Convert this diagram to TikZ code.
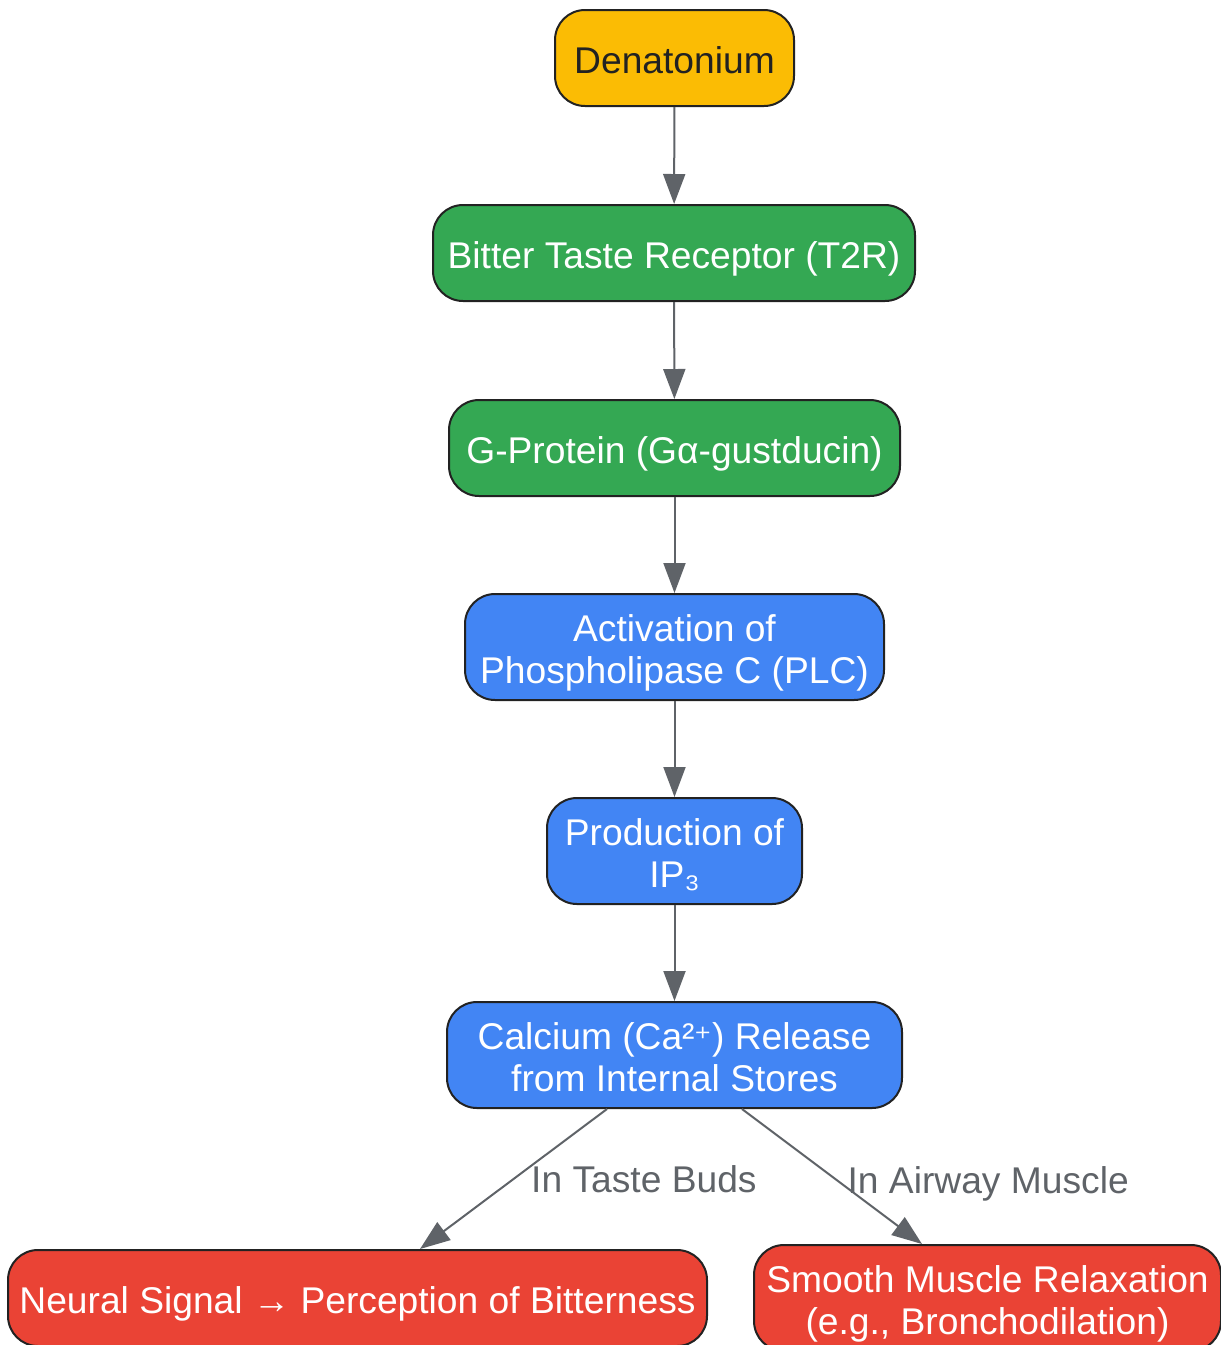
\documentclass[tikz,border=0pt]{standalone}
\usepackage{fontspec}
\setmainfont{Liberation Sans}
\newfontfamily\dejavu{DejaVu Sans}
\usetikzlibrary{arrows.meta,calc}
\definecolor{cyellow}{HTML}{FBBC04}
\definecolor{cgreen}{HTML}{34A853}
\definecolor{cblue}{HTML}{4285F4}
\definecolor{cred}{HTML}{EA4335}
\definecolor{cedge}{HTML}{5F6368}
\definecolor{cborder}{HTML}{222222}
\newcommand\boxtext[1]{\raisebox{0pt}[\dimexpr\height+7pt\relax][\dimexpr\depth-7pt\relax]{\begin{tabular}{@{}c@{}}#1\end{tabular}}}
\begin{document}
\begin{tikzpicture}[x=1pt,y=-1pt,
  box/.style={draw=cborder,line width=2pt,rounded corners=30pt,
    font=\fontsize{37.2}{42}\selectfont,text=white,inner sep=0pt},
  flow/.style={draw=cedge,line width=2pt,-{Triangle[length=30pt,width=22pt]}},
  elabel/.style={font=\fontsize{37.2}{42}\selectfont,text=cedge,inner sep=0pt}]
\useasboundingbox (0,0) rectangle (1221,1345);
\node[box,fill=cyellow,text=cborder,minimum width=239pt,minimum height=96pt] (den) at (674.5,58) {\boxtext{Denatonium}};
\node[box,fill=cgreen,minimum width=482pt,minimum height=96pt] (t2r) at (674,253) {\boxtext{Bitter Taste Receptor (T2R)}};
\node[box,fill=cgreen,minimum width=451pt,minimum height=96pt] (gp) at (674.5,448) {\boxtext{G-Protein (Gα-gustducin)}};
\node[box,fill=cblue,minimum width=419pt,minimum height=106pt] (plc) at (674.5,647) {\boxtext{Activation of\\Phospholipase C (PLC)}};
\node[box,fill=cblue,minimum width=255pt,minimum height=106pt] (ip3) at (674.5,851) {\boxtext{Production of\\IP₃}};
\node[box,fill=cblue,minimum width=455pt,minimum height=106pt] (ca) at (674.5,1055) {\boxtext{Calcium (Ca²{\dejavu\fontsize{33}{42}\selectfont ⁺}) Release\\from Internal Stores}};
\node[box,fill=cred,minimum width=699pt,minimum height=96pt] (neu) at (357.5,1298) {\boxtext{Neural Signal → Perception of Bitterness}};
\node[box,fill=cred,minimum width=467pt,minimum height=106pt] (smo) at (987.5,1298) {\boxtext{Smooth Muscle Relaxation\\(e.g., Bronchodilation)}};
\draw[flow] (den) -- (t2r);
\draw[flow] (t2r) -- (gp);
\draw[flow] (gp) -- (plc);
\draw[flow] (plc) -- (ip3);
\draw[flow] (ip3) -- (ca);
\draw[flow] ([xshift=-67.5pt]ca.south) -- node[elabel,pos=0.514,xshift=133pt,yshift=2pt] (l1) {In Taste Buds} ([xshift=62.5pt]neu.north);
\draw[flow] ([xshift=67.5pt]ca.south) -- node[elabel,pos=0.529,xshift=151pt,yshift=-3pt] (l2) {In Airway Muscle} ([xshift=-65.5pt]smo.north);
\end{tikzpicture}
\end{document}
